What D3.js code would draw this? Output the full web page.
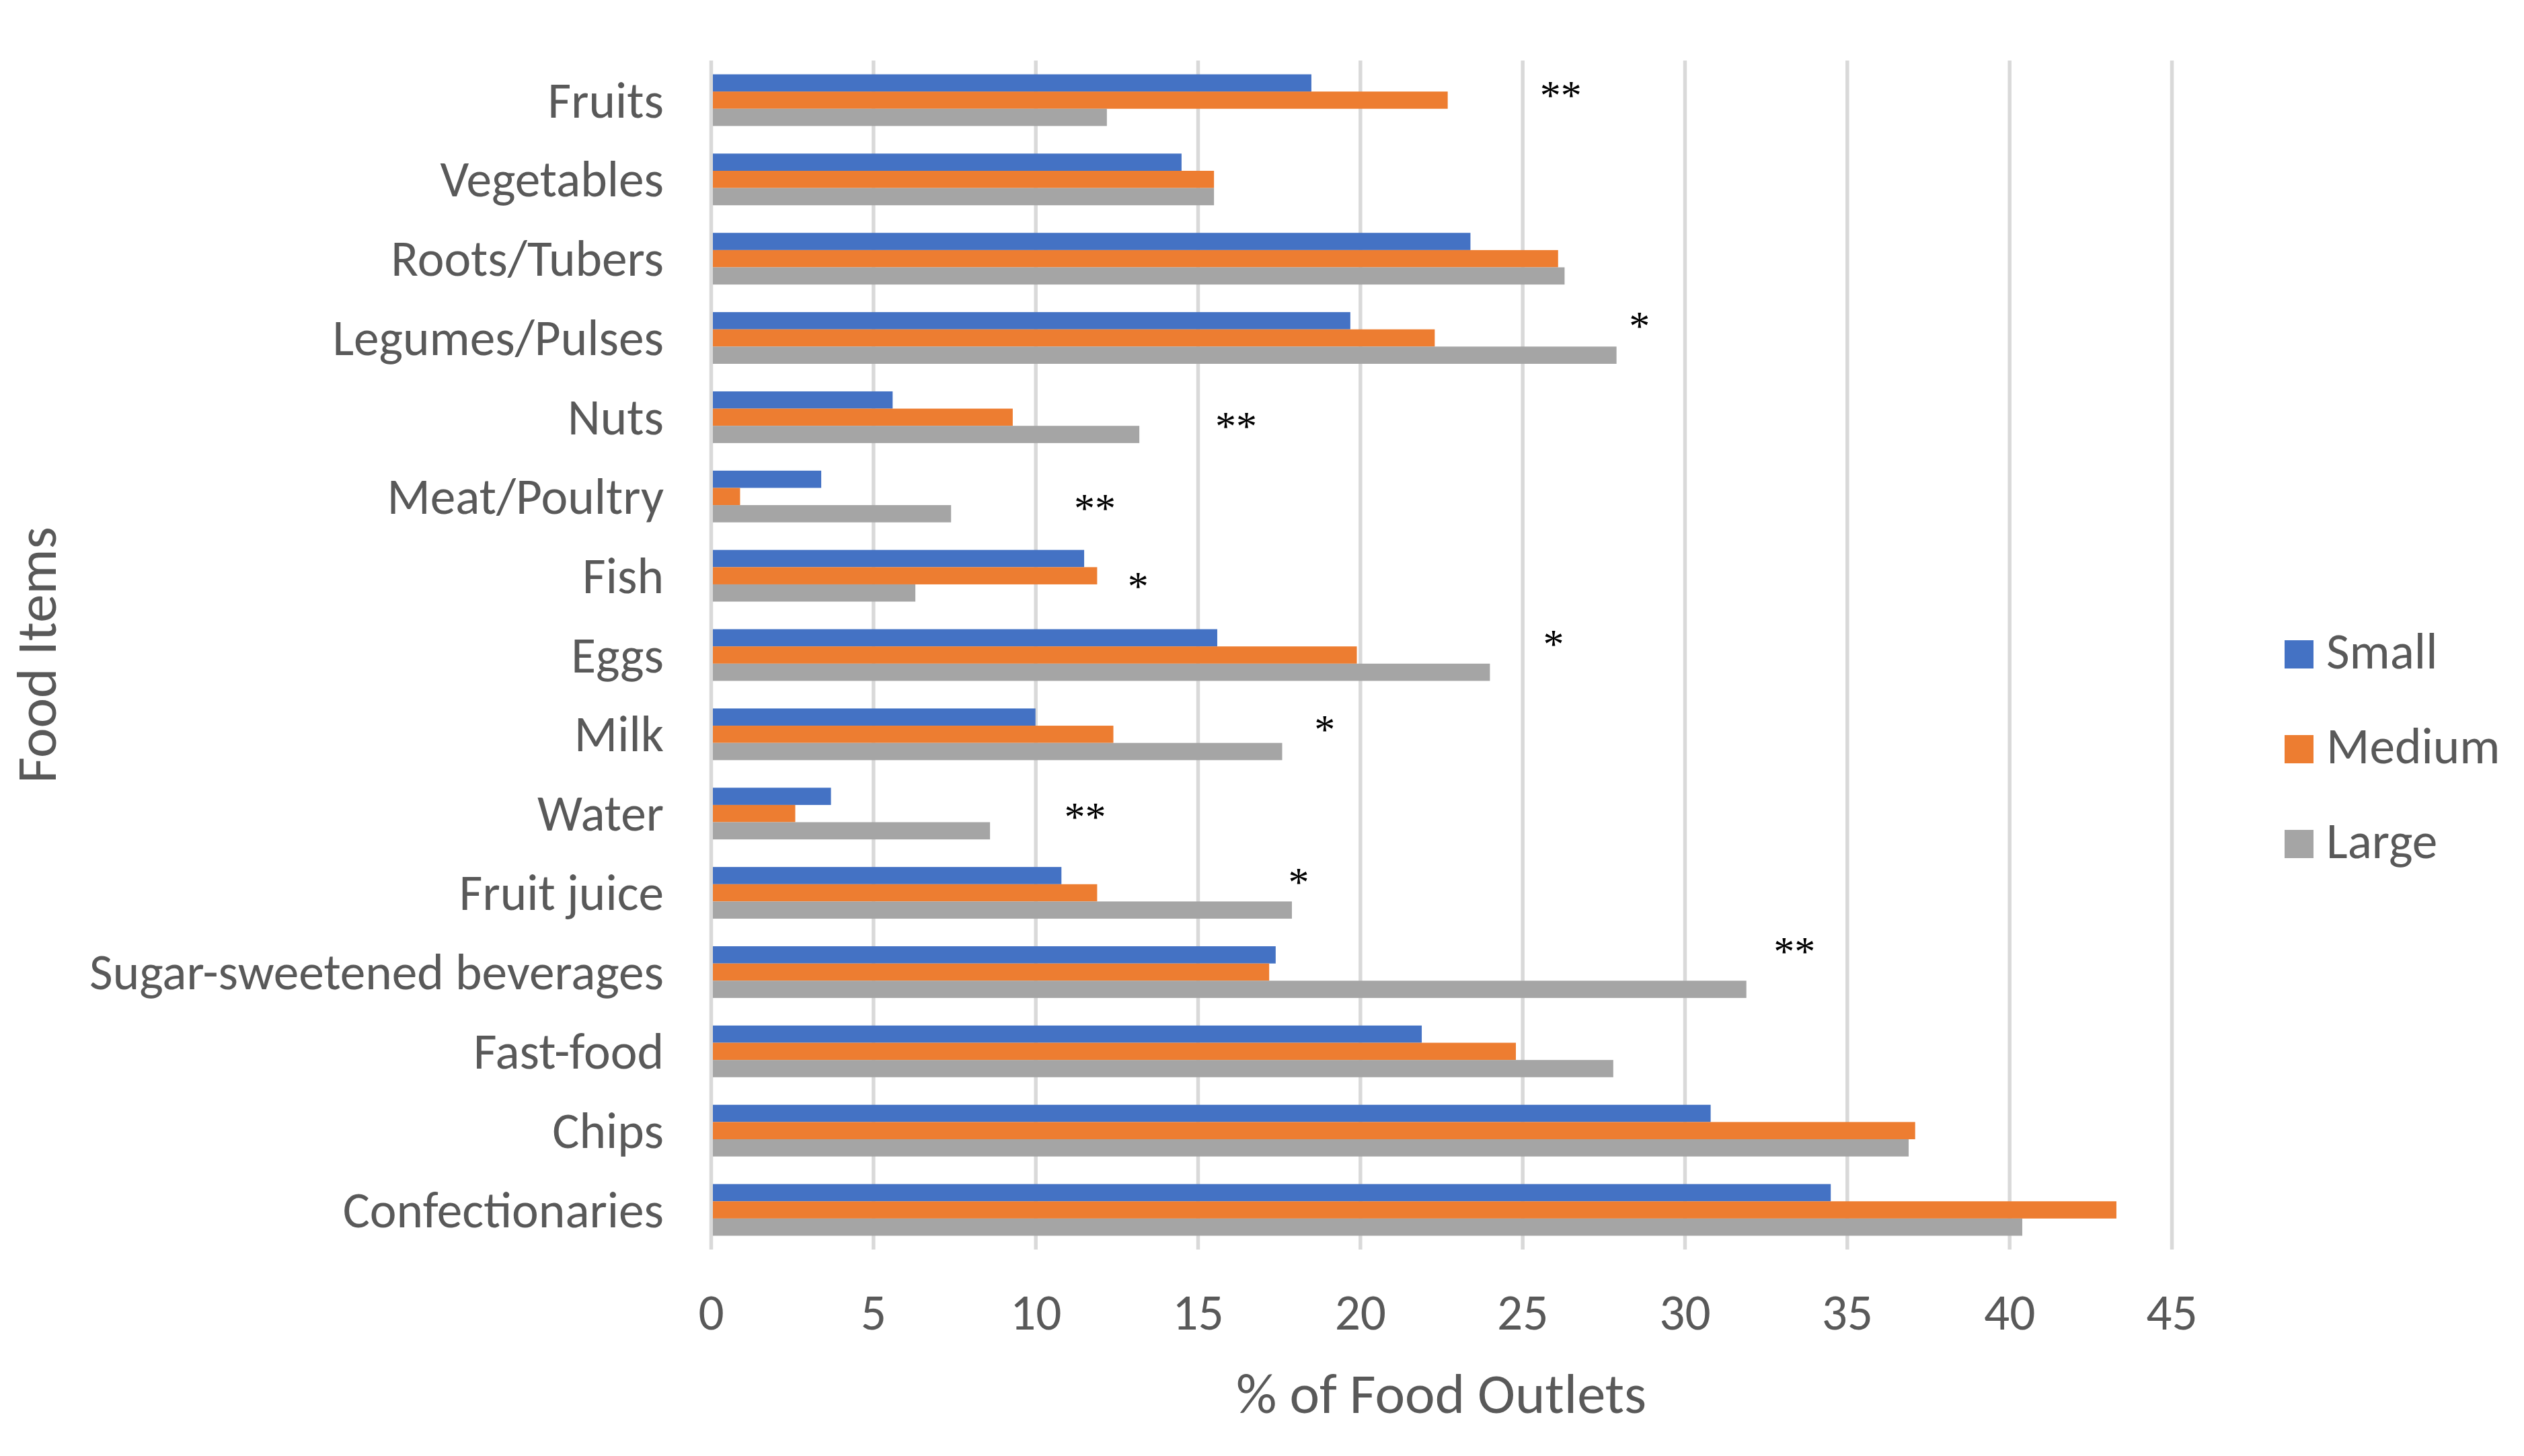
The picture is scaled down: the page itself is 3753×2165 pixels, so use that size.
<!DOCTYPE html>
<html>
<head>
<meta charset="utf-8">
<script src="https://cdn.jsdelivr.net/npm/d3@7"></script>
<style>
  html, body { margin: 0; padding: 0; background: #ffffff; }
  svg { display: block; }
</style>
</head>
<body>
<div id="chart"></div>
<script>
// chart values
const categories = ["Fruits", "Vegetables", "Roots/Tubers", "Legumes/Pulses", "Nuts",
    "Meat/Poultry", "Fish", "Eggs", "Milk", "Water", "Fruit juice",
    "Sugar-sweetened beverages", "Fast-food", "Chips", "Confectionaries"];
const seriesNames = ["Small", "Medium", "Large"];
const smallValues  = [18.5, 14.5, 23.4, 19.7, 5.6, 3.4, 11.5, 15.6, 10.0, 3.7, 10.8, 17.4, 21.9, 30.8, 34.5];
const mediumValues = [22.7, 15.5, 26.1, 22.3, 9.3, 0.9, 11.9, 19.9, 12.4, 2.6, 11.9, 17.2, 24.8, 37.1, 43.3];
const largeValues  = [12.2, 15.5, 26.3, 27.9, 13.2, 7.4, 6.3, 24.0, 17.6, 8.6, 17.9, 31.9, 27.8, 36.9, 40.4];
const xTicks = [0, 5, 10, 15, 20, 25, 30, 35, 40, 45];

// significance marks: text, x in % units, top offset as share of a category row
const starMarks = ["**", "", "", "*", "**", "**", "*", "*", "*", "**", "*", "**", "", "", ""];
const starAt    = [25.6, 0, 0, 28.35, 15.6, 11.25, 12.9, 25.7, 18.65, 10.95, 17.85, 32.8, 0, 0, 0];
const starTop   = [0.25, 0, 0, 0.16, 0.43, 0.46, 0.45, 0.18, 0.25, 0.36, 0.18, 0.05, 0, 0, 0];

const colours = ["#4472C4", "#ED7D31", "#A5A5A5"];
const textColour = "#595959";
const gridColour = "#D9D9D9";
const FONT = "Carlito, Calibri, Lato, 'Open Sans', sans-serif";

//----------------------------------------------------------
const W = 3753, H = 2165;
const plot = { left: 1057, right: 3229, top: 90, bottom: 1858 };

const svg = d3.select("#chart")
  .append("svg")
    .attr("width", W)
    .attr("height", H);

svg.append("rect")
    .attr("width", W)
    .attr("height", H)
    .attr("fill", "#ffffff");

// measure the font so label widths land where the reference has them
const probe = svg.append("text")
    .attr("font-family", FONT)
    .attr("font-size", 74)
    .text("Sugar-sweetened beverages");
const fontScale = 854 / probe.node().getComputedTextLength();
probe.remove();
const labelSize = 74 * fontScale;
const titleSize = 83 * fontScale;

const x = d3.scaleLinear()
    .domain([0, 45])
    .range([plot.left, plot.right]);

// gap width 160% between groups
const gap = 1.6 / 4.6;
const y0 = d3.scaleBand()
    .domain(categories)
    .range([plot.top, plot.bottom])
    .paddingInner(gap)
    .paddingOuter(gap / 2);

const y1 = d3.scaleBand()
    .domain(seriesNames)
    .range([0, y0.bandwidth()]);

const rows = categories.map(function (name, i) {
    return {
        name: name,
        values: [smallValues[i], mediumValues[i], largeValues[i]],
        mark: starMarks[i],
        markAt: starAt[i],
        markTop: starTop[i]
    };
});

//----------------------------------------------------------
// vertical gridlines
const grid = svg.append("g")
    .attr("transform", "translate(0," + plot.bottom + ")")
    .call(d3.axisBottom(x)
        .tickValues(xTicks)
        .tickSize(-(plot.bottom - plot.top))
        .tickFormat(""));
grid.select(".domain").remove();
grid.selectAll("line")
    .attr("stroke", gridColour)
    .attr("stroke-width", 5.5);

// bars
const groups = svg.append("g")
  .selectAll("g")
  .data(rows)
  .join("g")
    .attr("transform", function (d) {
        return "translate(0," + y0(d.name) + ")";
    });

groups.selectAll("rect")
  .data(function (d) {
      return d.values.map(function (v, j) {
          return { series: seriesNames[j], value: v, colour: colours[j] };
      });
  })
  .join("rect")
    .attr("x", x(0) + 3)
    .attr("y", function (d) { return y1(d.series); })
    .attr("height", y1.bandwidth())
    .attr("width", function (d) { return Math.max(0, x(d.value) - x(0) - 3); })
    .attr("fill", function (d) { return d.colour; });

// significance stars
const starSize = 62;
svg.append("g")
  .selectAll("text")
  .data(rows.filter(function (d) { return d.mark !== ""; }))
  .join("text")
    .attr("x", function (d) { return x(d.markAt) - 3; })
    .attr("y", function (d) {
        return y0(d.name) - y0.step() * y0.paddingOuter() + d.markTop * y0.step() + 0.68 * starSize;
    })
    .attr("font-family", "'Liberation Serif', 'Times New Roman', serif")
    .attr("font-size", starSize)
    .attr("fill", "#000000")
    .text(function (d) { return d.mark; });

// x axis labels
const xAxis = svg.append("g")
    .attr("transform", "translate(0," + plot.bottom + ")")
    .call(d3.axisBottom(x).tickValues(xTicks).tickSize(0));
xAxis.select(".domain").remove();
xAxis.selectAll("text")
    .attr("y", 119)
    .attr("dy", null)
    .attr("font-family", FONT)
    .attr("font-size", labelSize)
    .attr("fill", textColour);

// category labels
const yAxis = svg.append("g")
    .attr("transform", "translate(" + plot.left + ",0)")
    .call(d3.axisLeft(y0).tickSize(0).tickPadding(70));
yAxis.select(".domain").remove();
yAxis.selectAll("text")
    .attr("dy", "0.34em")
    .attr("font-family", FONT)
    .attr("font-size", labelSize)
    .attr("fill", textColour);

// axis titles
svg.append("text")
    .attr("x", (plot.left + plot.right) / 2)
    .attr("y", 2101)
    .attr("text-anchor", "middle")
    .attr("font-family", FONT)
    .attr("font-size", titleSize)
    .attr("fill", textColour)
    .text("% of Food Outlets");

svg.append("text")
    .attr("transform", "translate(83," + (plot.top + plot.bottom) / 2 + ") rotate(-90)")
    .attr("text-anchor", "middle")
    .attr("font-family", FONT)
    .attr("font-size", titleSize)
    .attr("fill", textColour)
    .text("Food Items");

// legend
const legend = svg.append("g")
    .attr("transform", "translate(3397,952)");
const item = legend.selectAll("g")
  .data(seriesNames)
  .join("g")
    .attr("transform", function (d, i) { return "translate(0," + i * 141 + ")"; });
item.append("rect")
    .attr("width", 43)
    .attr("height", 42)
    .attr("fill", function (d, i) { return colours[i]; });
item.append("text")
    .attr("x", 62)
    .attr("y", 42)
    .attr("font-family", FONT)
    .attr("font-size", labelSize)
    .attr("fill", textColour)
    .text(function (d) { return d; });
</script>
</body>
</html>
